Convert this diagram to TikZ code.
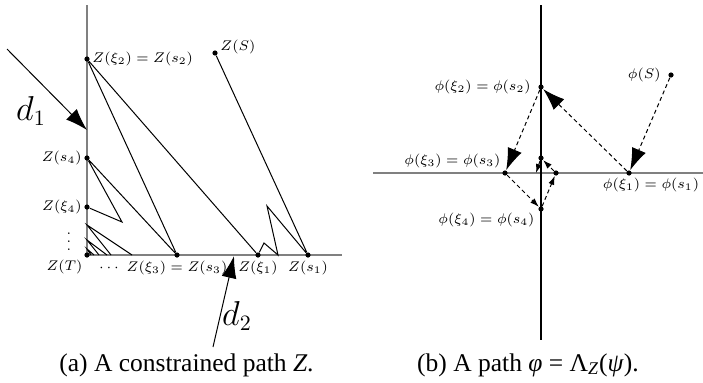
\documentclass[tikz,border=0pt]{standalone}
\usepackage{fontspec}
\newfontfamily\capfont{Liberation Serif}
\usetikzlibrary{arrows.meta}

\begin{document}
\begin{tikzpicture}[scale=0.8787,every node/.style={font=\scriptsize},
  dot/.style={circle,fill=black,inner sep=0pt,minimum size=2.6pt},
  bigtip/.style={-{Latex[length=11pt,width=7.5pt]}},
  smalltip/.style={-{Latex[length=4.5pt,width=3pt]}},
  dsh/.style={dash pattern=on 2pt off 1.5pt},
  axisline/.style={line width=0.7pt,black!50},
  caption/.style={font=\capfont\fontsize{12.75}{15}\selectfont}]
\useasboundingbox (0,0) rectangle (14.06,7.64);
% (a) constrained path Z
\draw[axisline] (1.74,7.54) -- (1.74,2.54) -- (6.84,2.54);
\node[dot] (T) at (1.74,2.54) {};
\node[dot] (xi2) at (1.74,6.46) {};
\node[dot] (S) at (4.30,6.58) {};
\node[dot] (s4) at (1.74,4.48) {};
\node[dot] (xi4) at (1.74,3.50) {};
\node[dot] (xi3) at (3.54,2.54) {};
\node[dot] (xi1) at (5.16,2.54) {};
\node[dot] (s1) at (6.16,2.54) {};
\coordinate (c1) at (5.34,3.52);
\coordinate (c2) at (5.56,2.54);
\coordinate (c3) at (5.28,2.78);
\coordinate (c4) at (2.44,3.20);
\draw[line width=0.5pt] (S) -- (s1) -- (c1) -- (c2) -- (c3) -- (xi1) -- (xi2) -- (xi3) -- (s4) -- (c4) -- (xi4);
\foreach \a/\b/\c in {3.14/2.64/2.22, 2.84/2.14/1.98, 2.66/1.88/1.82}
  \draw[line width=0.5pt] (\b,2.54) -- (1.74,\a) -- (\c,2.54);
\node[right,inner sep=1pt] (lxi2) at (xi2.east) {$Z(\xi_2)=Z(s_2)$};
\node[right,inner sep=1pt,yshift=3pt] (lS) at (S.east) {$Z(S)$};
\node[left,inner sep=1pt] (ls4) at (s4.west) {$Z(s_4)$};
\node[left,inner sep=1pt] (lxi4) at (xi4.west) {$Z(\xi_4)$};
\node[below left,inner sep=1pt] (lT) at (T.south west) {$Z(T)$};
\node[inner sep=0pt] (hdots) at (2.18,2.28) {$\cdots$};
\node[inner sep=0pt] (vdots) at (1.38,2.92) {$\vdots$};
\node[below,inner sep=1.5pt] (lxi3) at (xi3.south) {$Z(\xi_3)=Z(s_3)$};
\node[below,inner sep=1.5pt] (lxi1) at (xi1.south) {$Z(\xi_1)$};
\node[below,inner sep=1.5pt] (ls1) at (s1.south) {$Z(s_1)$};
% directions d1, d2
\coordinate (d1s) at (0.14,6.66);
\coordinate (d1e) at (1.74,5.04);
\coordinate (d2s) at (4.26,0.70);
\coordinate (d2e) at (4.68,2.52);
\draw[bigtip,line width=0.5pt] (d1s) -- (d1e);
\draw[bigtip,line width=0.5pt] (d2s) -- (d2e);
\node[font=\fontsize{16}{18}\selectfont] (d1) at (0.62,5.42) {$d_1$};
\node[font=\fontsize{16}{18}\selectfont] (d2) at (4.74,1.32) {$d_2$};
% (b) path phi
\draw[axisline] (7.46,4.18) -- (14.06,4.18);
\draw[line width=0.7pt] (10.82,7.54) -- (10.82,0.84);
\node[dot] (pS) at (13.42,6.14) {};
\node[dot] (p1) at (12.58,4.18) {};
\node[dot] (p2) at (10.82,5.90) {};
\node[dot] (p3) at (10.10,4.18) {};
\node[dot] (p4) at (10.82,3.46) {};
\node[dot] (p5) at (11.12,4.18) {};
\node[dot] (p6) at (10.82,4.48) {};
\coordinate (p7) at (10.72,4.18);
\draw[dsh,bigtip,line width=0.5pt] (pS) -- (p1);
\draw[dsh,bigtip,line width=0.5pt] (p1) -- (p2);
\draw[dsh,bigtip,line width=0.5pt] (p2) -- (p3);
\draw[dsh,smalltip,line width=0.5pt] (p3) -- (p4);
\draw[dsh,smalltip,line width=0.5pt] (p4) -- (p5);
\draw[dsh,smalltip,line width=0.5pt] (p5) -- (p6);
\draw[dsh,smalltip,line width=0.5pt] (p6) -- (p7);
\node[left,inner sep=1pt,xshift=-2.5pt] (lpS) at (pS.west) {$\phi(S)$};
\node[left,inner sep=1pt,xshift=-2.5pt] (lp2) at (p2.west) {$\phi(\xi_2)=\phi(s_2)$};
\node[above left,inner sep=1pt] (lp3) at (p3.north west) {$\phi(\xi_3)=\phi(s_3)$};
\node[below,inner sep=1pt,xshift=11pt] (lp1) at (p1.south) {$\phi(\xi_1)=\phi(s_1)$};
\node[below left,inner sep=0.5pt,xshift=-1.5pt] (lp4) at (p4.south west) {$\phi(\xi_4)=\phi(s_4)$};
% captions
\node[caption] (capa) at (3.73,0.34) {(a) A constrained path \textit{Z}.};
\node[caption] (capb) at (10.56,0.34) {(b) A path \textit{φ} = Λ\textsubscript{\textit{Z}}(\textit{ψ}).};
\end{tikzpicture}
\end{document}
